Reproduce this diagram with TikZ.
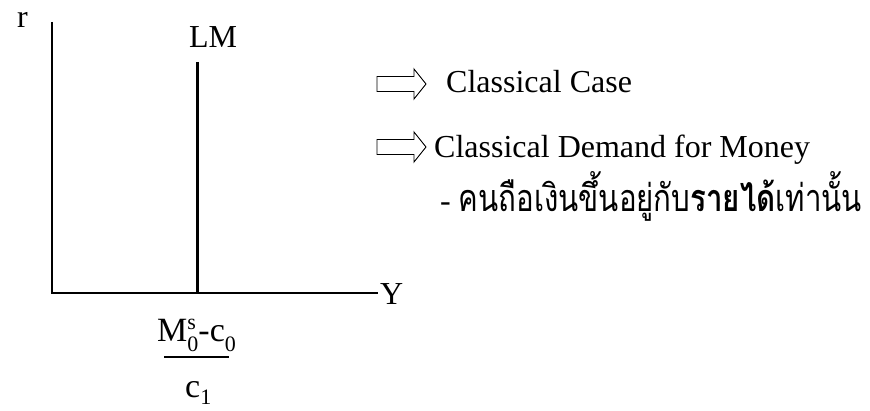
\documentclass[tikz,border=0pt]{standalone}
\usepackage{fontspec}
\setmainfont{Liberation Serif}
\newfontfamily\thaifont[Script=Thai]{Loma}
\newcommand{\subsz}{\fontsize{22}{24}\selectfont}
\begin{document}
\begin{tikzpicture}[x=1pt,y=-1pt,
  big/.style={font=\fontsize{32}{37}\selectfont, inner sep=0pt},
  frac/.style={font=\fontsize{34}{38}\selectfont, inner sep=0pt},
  axis/.style={line width=1.4pt},
  curve/.style={line width=3pt},
  blockarrow/.pic={\draw[line width=0.9pt, fill=white]
      (0,-7.5) -- (37,-7.5) -- (37,-15) -- (49,0) -- (37,15) -- (37,7.5) -- (0,7.5) -- cycle;}
]
\useasboundingbox (0,0) rectangle (870,411);

% axes
\coordinate (ytop) at (52,22);
\coordinate (origin) at (52,293);
\coordinate (xend) at (378,293);
\draw[axis] (ytop) -- (origin) -- (xend);
\node[big, anchor=base west] (rlab) at (17,28) {r};
\node[big, anchor=west] (ylab) at (380,294) {Y};

% vertical LM curve
\coordinate (lmtop) at (197,62);
\coordinate (lmbot) at (197,293);
\draw[curve] (lmtop) -- (lmbot);
\node[big] (lmlab) at (213,37) {LM};

% position of the LM curve on the Y axis
\node[frac, anchor=base west] (numer) at (157,342)
  {M\rlap{\raisebox{12pt}{\fontsize{22}{24}\selectfont s}}\raisebox{-10pt}{\subsz 0}-c\raisebox{-10pt}{\subsz 0}};
\coordinate (barL) at (164,357);
\coordinate (barR) at (229,357);
\draw[line width=1.2pt] (barL) -- (barR);
\node[frac, anchor=base west] (denom) at (185,397)
  {c\raisebox{-7pt}{\subsz 1}};

% notes
\pic at (377,84) {blockarrow};
\node[big, anchor=west] (note1) at (446,82) {Classical Case};
\pic at (377,147) {blockarrow};
\node[big, anchor=west] (note2) at (434,150) {Classical Demand for Money};
\node[big, anchor=base west] (note3) at (440,212)
  {- \scalebox{0.92}[1.18]{\thaifont คนถือเงินขึ้นอยู่กับ\textbf{รายได้}เท่านั้น}};
\end{tikzpicture}
\end{document}
